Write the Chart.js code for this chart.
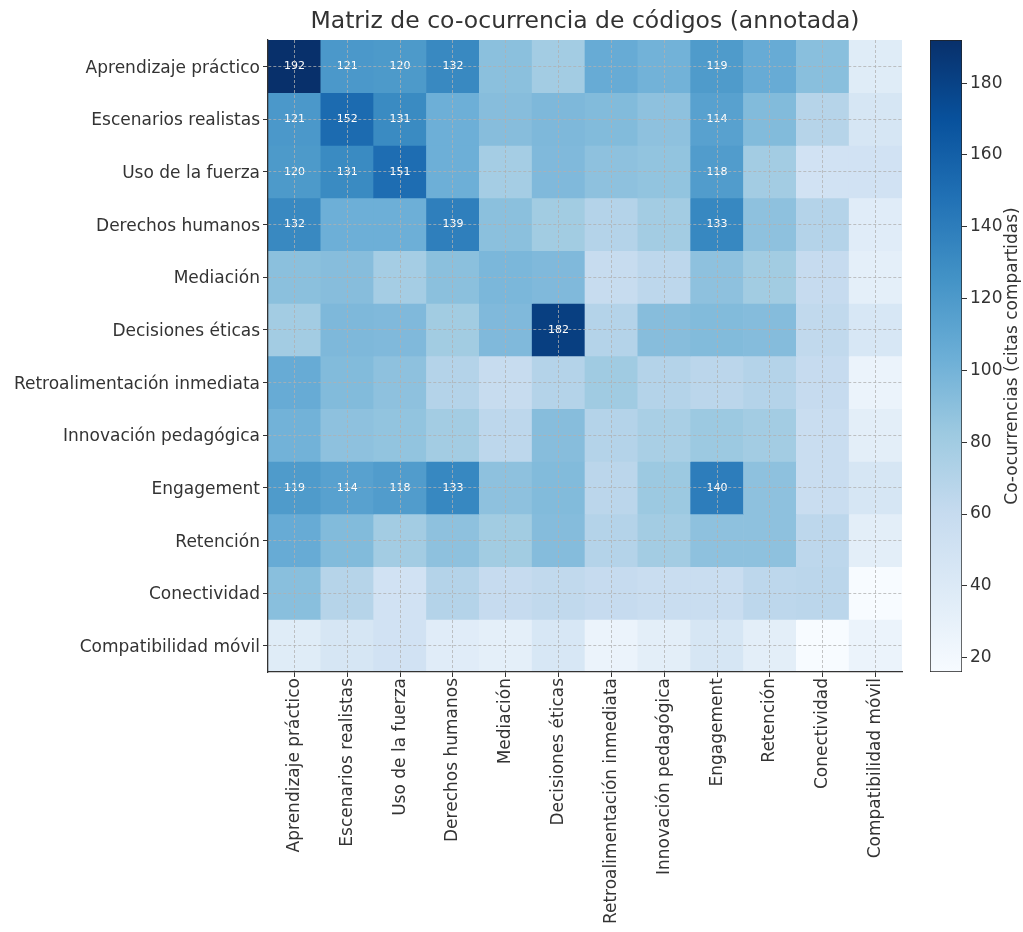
<!DOCTYPE html>
<html>
<head>
<meta charset="utf-8">
<script src="https://cdn.jsdelivr.net/npm/chart.js@4.4.1/dist/chart.umd.min.js"></script>
<style>
  html, body { margin: 0; padding: 0; background: #ffffff; }
  #wrap { position: relative; width: 1023px; height: 932px; }
  #main { position: absolute; left: 0; top: 0; }
  #cbar { position: absolute; left: 915px; top: 0; }
</style>
</head>
<body>
<div id="wrap">
  <canvas id="main" width="915" height="932"></canvas>
  <canvas id="cbar" width="108" height="932"></canvas>
</div>
<script>
// ---------- DATA ----------
const chartTitle = "Matriz de co-ocurrencia de códigos (annotada)";
const colorbarLabel = "Co-ocurrencias (citas compartidas)";
const codes = [
  "Aprendizaje práctico", "Escenarios realistas", "Uso de la fuerza", "Derechos humanos",
  "Mediación", "Decisiones éticas", "Retroalimentación inmediata", "Innovación pedagógica",
  "Engagement", "Retención", "Conectividad", "Compatibilidad móvil"
];
const aprendizajePractico   = [192, 121, 120, 132,  90,  79, 106, 101, 119, 106,  91,  37];
const escenariosRealistas   = [121, 152, 131, 103,  92,  96,  94,  89, 114,  94,  69,  45];
const usoDeLaFuerza         = [120, 131, 151, 103,  78,  95,  89,  87, 118,  79,  50,  50];
const derechosHumanos       = [132, 103, 103, 139,  90,  80,  70,  79, 133,  89,  70,  36];
const mediacion             = [ 90,  92,  78,  90,  97,  95,  59,  65,  89,  80,  60,  33];
const decisionesEticas      = [ 79,  96,  95,  80,  95, 182,  70,  92,  94,  93,  63,  44];
const retroalimentacion     = [106,  94,  89,  70,  59,  70,  81,  70,  66,  70,  60,  27];
const innovacionPedagogica  = [101,  89,  87,  79,  65,  92,  70,  76,  83,  79,  57,  34];
const engagement            = [119, 114, 118, 133,  89,  94,  66,  83, 140,  89,  57,  45];
const retencion             = [106,  94,  79,  89,  80,  93,  70,  79,  89,  89,  65,  34];
const conectividad          = [ 91,  69,  50,  70,  60,  63,  60,  57,  57,  65,  66,  16];
const compatibilidadMovil   = [ 37,  45,  50,  36,  33,  44,  27,  34,  45,  34,  16,  27];
const colorbarTicks = [20, 40, 60, 80, 100, 120, 140, 160, 180];
const annotateThreshold = 110;

const matrix = [
  aprendizajePractico, escenariosRealistas, usoDeLaFuerza, derechosHumanos,
  mediacion, decisionesEticas, retroalimentacion, innovacionPedagogica,
  engagement, retencion, conectividad, compatibilidadMovil
];

// ---------- COLORMAP (matplotlib Blues) ----------
const bluesStops = [
  [247,251,255],[222,235,247],[198,219,239],[158,202,225],[107,174,214],
  [66,146,198],[33,113,181],[8,81,156],[8,48,107]
];
const allVals = matrix.flat();
const vMin = Math.min(...allVals);
const vMax = Math.max(...allVals);
function blues(v) {
  let t = (v - vMin) / (vMax - vMin);
  t = Math.max(0, Math.min(1, t));
  const p = t * 8;
  const i = Math.min(7, Math.floor(p));
  const f = p - i;
  const a = bluesStops[i], b = bluesStops[i + 1];
  const c = a.map((x, k) => Math.round(x + (b[k] - x) * f));
  return `rgb(${c[0]},${c[1]},${c[2]})`;
}

const FONT = "'DejaVu Sans', sans-serif";
const TXT = '#333333';
const GRID = 'rgba(176,176,176,0.75)';

// ---------- MAIN HEATMAP ----------
const rowTicks = codes.map((_, i) => i + 0.5);

const datasets = matrix.map((row, i) => ({
  label: codes[i],
  values: row,
  data: row.map(() => [i, i + 1]),
  backgroundColor: row.map(v => blues(v)),
  borderWidth: 0,
  categoryPercentage: 1,
  barPercentage: 1,
  grouped: false
}));

const titlePlugin = {
  id: 'titleOnArea',
  afterDraw(chart) {
    const { ctx, chartArea } = chart;
    ctx.save();
    ctx.font = `23.5px ${FONT}`;
    ctx.fillStyle = TXT;
    ctx.textAlign = 'center';
    ctx.textBaseline = 'middle';
    ctx.fillText(chartTitle, (chartArea.left + chartArea.right) / 2, 22);
    ctx.restore();
  }
};

const annotatePlugin = {
  id: 'annotate',
  afterDatasetsDraw(chart) {
    const { ctx } = chart;
    ctx.save();
    ctx.font = `11px ${FONT}`;
    ctx.fillStyle = '#ffffff';
    ctx.textAlign = 'center';
    ctx.textBaseline = 'middle';
    chart.data.datasets.forEach((ds, i) => {
      const meta = chart.getDatasetMeta(i);
      meta.data.forEach((el, j) => {
        const v = ds.values[j];
        if (v >= annotateThreshold) {
          ctx.fillText(String(v), el.x, (el.y + el.base) / 2);
        }
      });
    });
    ctx.restore();
  }
};

new Chart(document.getElementById('main'), {
  type: 'bar',
  data: { labels: codes, datasets },
  options: {
    responsive: false,
    animation: false,
    devicePixelRatio: 1,
    layout: { padding: { left: 0, right: 13, top: 40, bottom: 0 } },
    plugins: { legend: { display: false }, tooltip: { enabled: false }, title: { display: false } },
    scales: {
      x: {
        type: 'category',
        offset: true,
        z: 1,
        grid: { display: true, z: 1, offset: false, color: GRID, lineWidth: 1, drawTicks: true,
                tickLength: 5, tickColor: TXT, tickWidth: 1, tickBorderDash: [] },
        border: { display: true, z: 2, color: TXT, width: 1.3, dash: [3, 2] },
        ticks: { z: 2, autoSkip: false, minRotation: 90, maxRotation: 90, padding: 1,
                 color: TXT, font: { family: FONT, size: 17 } },
        afterFit: (s) => { s.height = 260; }
      },
      y: {
        type: 'linear',
        min: 0, max: 12,
        reverse: true,
        z: 1,
        afterBuildTicks: (s) => { s.ticks = rowTicks.map(v => ({ value: v })); },
        grid: { display: true, z: 1, color: GRID, lineWidth: 1, drawTicks: true,
                tickLength: 5, tickColor: TXT, tickWidth: 1, tickBorderDash: [] },
        border: { display: true, z: 2, color: TXT, width: 1.3, dash: [3, 2] },
        ticks: { z: 2, padding: 3, labelOffset: 2, color: TXT, font: { family: FONT, size: 17 },
                 callback: (value) => codes[Math.floor(value)] },
        afterFit: (s) => { s.width = 268; }
      }
    }
  },
  plugins: [annotatePlugin, titlePlugin]
});

// ---------- COLORBAR ----------
const cbarLabelPlugin = {
  id: 'cbarLabel',
  afterDraw(chart) {
    const { ctx, chartArea } = chart;
    ctx.save();
    ctx.translate(98, (chartArea.top + chartArea.bottom) / 2);
    ctx.rotate(-Math.PI / 2);
    ctx.font = `17px ${FONT}`;
    ctx.fillStyle = TXT;
    ctx.textAlign = 'center';
    ctx.textBaseline = 'middle';
    ctx.fillText(colorbarLabel, 0, 0);
    ctx.restore();
  }
};

new Chart(document.getElementById('cbar'), {
  type: 'bar',
  data: {
    labels: [''],
    datasets: [{
      data: [[vMin, vMax]],
      backgroundColor: (c) => {
        const chart = c.chart;
        const ys = chart.scales && chart.scales.y;
        if (!ys || !chart.chartArea) return blues((vMin + vMax) / 2);
        const g = chart.ctx.createLinearGradient(0, ys.getPixelForValue(vMin), 0, ys.getPixelForValue(vMax));
        bluesStops.forEach((s, i) => g.addColorStop(i / 8, `rgb(${s[0]},${s[1]},${s[2]})`));
        return g;
      },
      borderColor: '#222222',
      borderWidth: 1,
      borderSkipped: false,
      categoryPercentage: 1,
      barPercentage: 1
    }]
  },
  options: {
    responsive: false,
    animation: false,
    devicePixelRatio: 1,
    layout: { padding: { left: 15, right: 0, top: 40, bottom: 260 } },
    plugins: { legend: { display: false }, tooltip: { enabled: false } },
    scales: {
      x: { display: false, offset: true },
      y: {
        position: 'right',
        min: vMin, max: vMax,
        afterBuildTicks: (s) => { s.ticks = colorbarTicks.map(v => ({ value: v })); },
        grid: { drawOnChartArea: false, drawTicks: true, tickLength: 5, tickColor: TXT, tickWidth: 1 },
        border: { display: false },
        ticks: { padding: 3, color: TXT, font: { family: FONT, size: 17 } },
        afterFit: (s) => { s.width = 61; }
      }
    }
  },
  plugins: [cbarLabelPlugin]
});
</script>
</body>
</html>
